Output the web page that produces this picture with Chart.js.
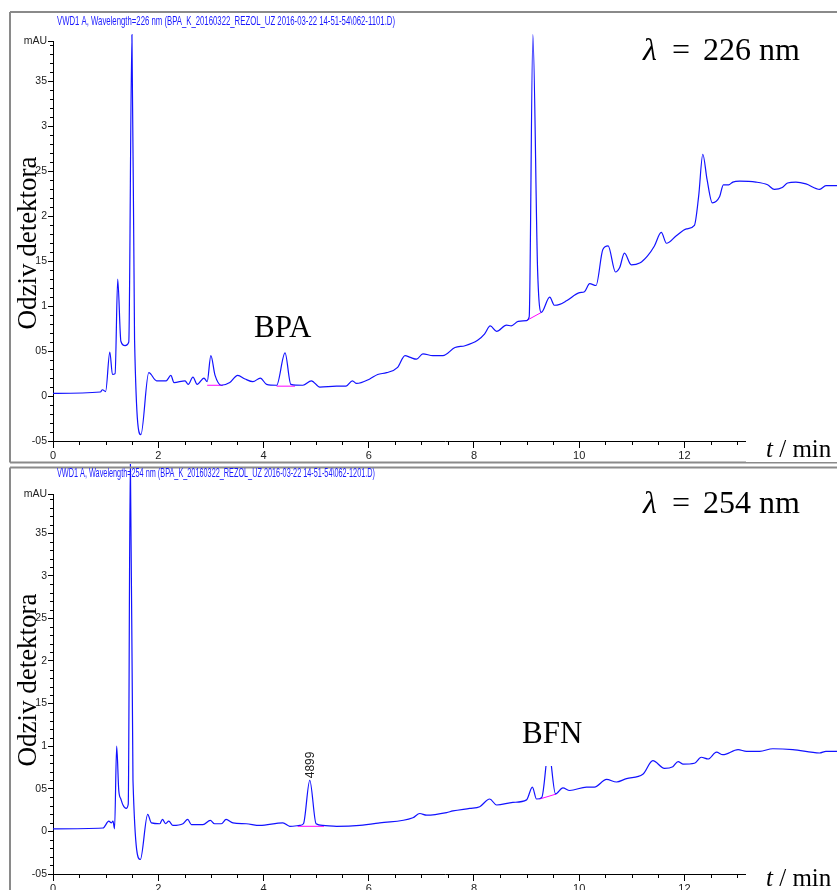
<!DOCTYPE html>
<html>
<head>
<meta charset="utf-8">
<title>Kromatogram BPA / BFN</title>
<script src="https://cdn.jsdelivr.net/npm/chart.js@4.4.1/dist/chart.umd.min.js"></script>
<style>
  body { margin: 0; background: #fff; }
  canvas { position: absolute; left: 0; }
  #c226 { top: 0; }
  #c254 { top: 464px; }
</style>
</head>
<body>
<canvas id="c226" width="837" height="464"></canvas>
<canvas id="c254" width="837" height="426"></canvas>
<script>
// retention time (min) and detector response (mAU)
const time226 = [
  0, 0.9, 0.94, 1.0, 1.08, 1.13, 1.18, 1.23, 1.29, 1.37,
  1.44, 1.50, 1.55, 1.67, 1.82, 1.97, 2.15, 2.24, 2.30, 2.51,
  2.57, 2.66, 2.74, 2.87, 2.93, 3.00, 3.08, 3.20, 3.36, 3.51,
  3.65, 3.80, 3.94, 4.06, 4.25, 4.41, 4.52, 4.75, 4.91, 5.07,
  5.39, 5.57, 5.69, 5.77, 6.02, 6.17, 6.34, 6.55, 6.69, 6.79,
  6.91, 7.03, 7.22, 7.41, 7.64, 7.83, 8.07, 8.20, 8.31, 8.43,
  8.62, 8.71, 8.84, 9.00, 9.05, 9.12, 9.21, 9.28, 9.44, 9.53,
  9.63, 9.76, 10.01, 10.10, 10.20, 10.32, 10.45, 10.55, 10.69, 10.77,
  10.86, 10.99, 11.15, 11.30, 11.43, 11.56, 11.66, 11.84, 12.04, 12.19,
  12.27, 12.35, 12.43, 12.53, 12.67, 12.74, 12.84, 12.92, 13.05, 13.36,
  13.58, 13.71, 13.86, 13.96, 14.12, 14.31, 14.57, 14.69, 14.90
];
const resp226 = [
  0.03, 0.045, 0.07, 0.05, 0.49, 0.24, 0.25, 1.30, 0.61, 0.56,
  0.60, 4.02, 0.63, -0.43, 0.26, 0.17, 0.17, 0.23, 0.15, 0.17,
  0.13, 0.21, 0.13, 0.20, 0.16, 0.45, 0.23, 0.12, 0.15, 0.23,
  0.19, 0.16, 0.20, 0.13, 0.12, 0.48, 0.13, 0.12, 0.17, 0.10,
  0.11, 0.11, 0.17, 0.14, 0.19, 0.24, 0.26, 0.32, 0.45, 0.43,
  0.41, 0.47, 0.45, 0.45, 0.54, 0.56, 0.62, 0.69, 0.78, 0.72,
  0.79, 0.78, 0.83, 0.84, 0.88, 4.02, 1.40, 0.93, 1.10, 1.01,
  1.02, 1.06, 1.15, 1.16, 1.25, 1.23, 1.63, 1.67, 1.38, 1.43,
  1.59, 1.46, 1.48, 1.56, 1.67, 1.82, 1.70, 1.78, 1.86, 1.90,
  2.22, 2.69, 2.41, 2.15, 2.22, 2.35, 2.35, 2.38, 2.39, 2.38,
  2.35, 2.30, 2.32, 2.37, 2.38, 2.36, 2.30, 2.34, 2.34
];

// same for the 254 nm trace
const time254 = [
  0, 0.95, 1.06, 1.11, 1.14, 1.17, 1.21, 1.25, 1.29, 1.33,
  1.39, 1.43, 1.47, 1.52, 1.66, 1.80, 1.87, 2.03, 2.08, 2.14,
  2.20, 2.28, 2.47, 2.56, 2.63, 2.85, 2.99, 3.07, 3.20, 3.29,
  3.42, 3.67, 3.93, 4.37, 4.50, 4.69, 4.76, 4.88, 5.00, 5.13,
  5.39, 5.83, 6.21, 6.84, 6.97, 7.10, 7.48, 7.60, 7.92, 8.11,
  8.30, 8.43, 8.74, 9.00, 9.11, 9.19, 9.29, 9.42, 9.55, 9.69,
  9.82, 10.14, 10.29, 10.52, 10.71, 10.90, 11.21, 11.40, 11.62, 11.78,
  11.88, 11.97, 12.19, 12.32, 12.45, 12.61, 12.73, 13.02, 13.18, 13.43,
  13.68, 14.06, 14.57, 14.69, 14.90
];
const resp254 = [
  0.03, 0.04, 0.12, 0.10, 0.12, 0.03, 1.00, 0.48, 0.38, 0.31,
  0.27, 0.32, 4.40, 0.60, -0.33, 0.20, 0.10, 0.09, 0.14, 0.09,
  0.12, 0.07, 0.09, 0.14, 0.08, 0.08, 0.13, 0.09, 0.09, 0.14,
  0.10, 0.09, 0.07, 0.10, 0.06, 0.07, 0.09, 0.60, 0.09, 0.07,
  0.06, 0.07, 0.10, 0.16, 0.21, 0.19, 0.22, 0.24, 0.27, 0.29,
  0.38, 0.31, 0.34, 0.37, 0.52, 0.38, 0.40, 0.95, 0.44, 0.51,
  0.48, 0.52, 0.52, 0.61, 0.58, 0.62, 0.67, 0.83, 0.74, 0.76,
  0.82, 0.79, 0.80, 0.87, 0.85, 0.93, 0.90, 0.96, 0.94, 0.94,
  0.97, 0.96, 0.92, 0.94, 0.94
];

// integration baselines (magenta) under the marked peaks
const base226From = [2.93, 4.25, 9.00];
const base226To = [3.23, 4.60, 9.28];
const base226FromVal = [0.12, 0.11, 0.84];
const base226ToVal = [0.12, 0.11, 0.93];

const base254From = [4.65, 9.25];
const base254To = [5.15, 9.57];
const base254FromVal = [0.06, 0.38];
const base254ToVal = [0.06, 0.44];

// axes
const xTicks = [0, 2, 4, 6, 8, 10, 12];
const yTicks = [-0.5, 0, 0.5, 1, 1.5, 2, 2.5, 3, 3.5];
const yTickLabels = ['-05', '0', '05', '1', '15', '2', '25', '3', '35'];

const narrow = "'Liberation Sans Narrow', 'Arial Narrow', 'Liberation Sans', sans-serif";
const serif = "'Liberation Serif', 'Times New Roman', serif";

function points(xs, ys) {
  return xs.map((x, i) => ({ x: x, y: ys[i] }));
}

function baselines(from, to, fromVal, toVal) {
  return from.map((f, i) => ({
    data: [{ x: f, y: fromVal[i] }, { x: to[i], y: toVal[i] }],
    borderColor: '#ff00ff',
    borderWidth: 1,
    pointRadius: 0
  }));
}

// frame, headers, labels and minor ticks
const decor = {
  id: 'decor',
  afterDraw(chart, args, o) {
    const ctx = chart.ctx;
    const xs = chart.scales.x, ys = chart.scales.y;
    ctx.save();

    // minor ticks
    ctx.strokeStyle = '#000';
    ctx.lineWidth = 1;
    ctx.beginPath();
    for (let k = -5; k <= Math.floor(ys.max * 10); k++) {
      if (k % 5 === 0) continue;
      const py = Math.round(ys.getPixelForValue(k / 10)) + 0.5;
      ctx.moveTo(ys.right - 3, py);
      ctx.lineTo(ys.right, py);
    }
    for (let k = 1; k < 29; k++) {
      if (k % 4 === 0) continue;
      const px = Math.round(xs.getPixelForValue(k / 2)) + 0.5;
      ctx.moveTo(px, xs.top);
      ctx.lineTo(px, xs.top + 4);
    }
    ctx.stroke();

    // gray frame
    ctx.strokeStyle = '#8a8a8a';
    ctx.lineWidth = 2;
    ctx.beginPath();
    ctx.moveTo(10, o.frameTop);
    ctx.lineTo(chart.width, o.frameTop);
    ctx.moveTo(10, o.frameTop);
    ctx.lineTo(10, o.frameBottom);
    if (o.closeBottom) {
      ctx.moveTo(10, o.frameBottom);
      ctx.lineTo(chart.width, o.frameBottom);
    }
    ctx.stroke();

    // file header, squeezed like the instrument printout
    ctx.fillStyle = '#1a1aff';
    ctx.font = '13px ' + narrow;
    ctx.textBaseline = 'middle';
    ctx.textAlign = 'left';
    ctx.fillText(o.header, 57, o.headerY, o.headerW);

    // t / min label over the end of the axis
    ctx.fillStyle = '#fff';
    ctx.fillRect(746, o.unitBaseline - 22, 91, 27);
    ctx.fillStyle = '#000';
    ctx.textBaseline = 'alphabetic';
    ctx.font = 'italic 25px ' + serif;
    ctx.fillText('t', 766, o.unitBaseline);
    const tw = ctx.measureText('t').width;
    ctx.font = '25px ' + serif;
    ctx.fillText(' / min', 766 + tw, o.unitBaseline);

    // wavelength
    ctx.font = 'italic 32px ' + serif;
    ctx.fillText('\u03bb', 643, o.lambdaY);
    ctx.font = '32px ' + serif;
    ctx.fillText('=', 672, o.lambdaY);
    ctx.textAlign = 'right';
    ctx.fillText(o.lambda + ' nm', 800, o.lambdaY);
    ctx.textAlign = 'left';

    // analyte name, with a white box behind it
    ctx.font = '31px ' + serif;
    if (o.analyteBox) {
      ctx.fillStyle = '#fff';
      ctx.fillRect(o.analyteX - 6, o.analyteY - 30, 72, o.analyteBox);
      ctx.fillStyle = '#000';
    }
    ctx.fillText(o.analyte, o.analyteX, o.analyteY);

    // y title
    ctx.save();
    ctx.translate(36, o.titleY);
    ctx.rotate(-Math.PI / 2);
    ctx.textAlign = 'center';
    ctx.font = '27px ' + serif;
    ctx.fillText('Odziv detektora', 0, 0);
    ctx.restore();

    // retention-time label on a peak
    if (o.peakLabel) {
      const px = xs.getPixelForValue(o.peakLabel.t);
      const py = ys.getPixelForValue(o.peakLabel.v);
      ctx.save();
      ctx.translate(px + 4, py - 2);
      ctx.rotate(-Math.PI / 2);
      ctx.font = '12px ' + narrow;
      ctx.fillStyle = '#222';
      ctx.textAlign = 'left';
      ctx.fillText(o.peakLabel.text, 0, 0);
      ctx.restore();
    }
    ctx.restore();
  }
};

function makePanel(id, times, resp, base, yMax, padTop, xHeight, deco) {
  const clipTop = { left: 0, top: false, right: 0, bottom: 0 };
  return new Chart(document.getElementById(id), {
    type: 'line',
    data: {
      datasets: [{
        data: points(times, resp),
        borderColor: '#1212ff',
        borderWidth: 1.2,
        pointRadius: 0,
        cubicInterpolationMode: 'monotone',
        clip: clipTop
      }].concat(base)
    },
    options: {
      responsive: false,
      animation: false,
      events: [],
      parsing: false,
      layout: { padding: { top: padTop, left: 10, right: 0, bottom: 0 } },
      plugins: { legend: { display: false }, tooltip: { enabled: false }, decor: deco },
      scales: {
        x: {
          type: 'linear',
          min: 0,
          max: 14.9,
          afterBuildTicks: s => { s.ticks = xTicks.map(v => ({ value: v })); },
          afterFit: s => { s.height = xHeight; },
          grid: { drawOnChartArea: false, tickLength: 7, color: '#000' },
          border: { color: '#000', width: 1 },
          ticks: {
            color: '#222',
            padding: 1,
            maxRotation: 0,
            autoSkip: false,
            font: { family: narrow, size: 11 },
            callback: v => String(v)
          }
        },
        y: {
          type: 'linear',
          min: -0.5,
          max: yMax,
          afterBuildTicks: s => {
            s.ticks = yTicks.map(v => ({ value: v })).concat([{ value: yMax }]);
          },
          afterFit: s => { s.width = 43; },
          grid: { drawOnChartArea: false, tickLength: 5, color: '#000' },
          border: { color: '#000', width: 1 },
          ticks: {
            color: '#222',
            padding: 1,
            autoSkip: false,
            font: { family: narrow, size: 10.5 },
            callback: (v, i) => (i < yTickLabels.length ? yTickLabels[i] : 'mAU')
          }
        }
      }
    },
    plugins: [decor]
  });
}

makePanel('c226', time226, resp226,
  baselines(base226From, base226To, base226FromVal, base226ToVal),
  3.95, 41, 23, {
    frameTop: 12, frameBottom: 462.5, closeBottom: true,
    header: 'VWD1 A, Wavelength=226 nm (BPA_K_20160322_REZOL_UZ 2016-03-22 14-51-54\\062-1101.D)',
    headerY: 21, headerW: 338,
    unitBaseline: 457,
    lambda: '226', lambdaY: 60,
    analyte: 'BPA', analyteX: 254, analyteY: 337, analyteBox: 0,
    titleY: 243
  });

makePanel('c254', time254, resp254,
  baselines(base254From, base254To, base254FromVal, base254ToVal),
  3.96, 30, 16, {
    frameTop: 3.5, frameBottom: 426, closeBottom: false,
    header: 'VWD1 A, Wavelength=254 nm (BPA_K_20160322_REZOL_UZ 2016-03-22 14-51-54\\062-1201.D)',
    headerY: 9, headerW: 318,
    unitBaseline: 422,
    lambda: '254', lambdaY: 49,
    analyte: 'BFN', analyteX: 522, analyteY: 279, analyteBox: 53,
    titleY: 216,
    peakLabel: { t: 4.88, v: 0.60, text: '4899' }
  });
</script>
</body>
</html>
